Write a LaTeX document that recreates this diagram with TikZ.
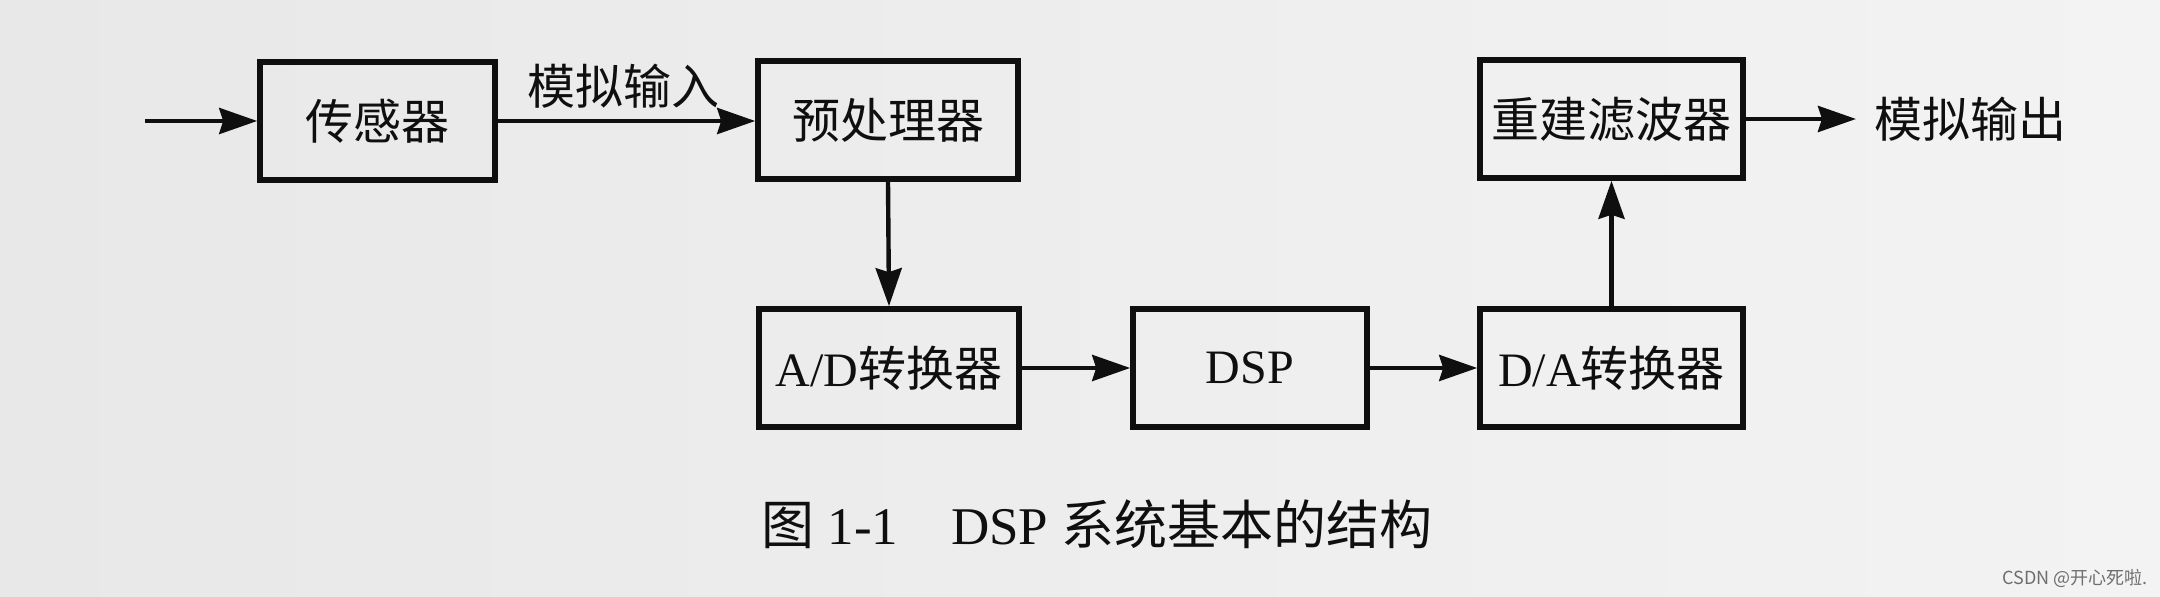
\documentclass[tikz,border=0pt]{standalone}
\usepackage{fontspec}
\setmainfont{Liberation Serif}
\newfontfamily\cjk{Noto Sans CJK SC}
\usetikzlibrary{arrows.meta}
\definecolor{ink}{RGB}{15,15,15}
\definecolor{bgl}{RGB}{232,232,232}
\definecolor{bgr}{RGB}{243,243,243}
\definecolor{wm}{RGB}{110,110,110}
\tikzset{
  blk/.style={draw=ink, line width=2.8pt, minimum height=59pt, inner sep=0pt,
    font=\fontsize{24}{28}\selectfont, text=ink},
  lbl/.style={inner sep=0pt, font=\fontsize{24}{28}\selectfont, text=ink},
  arr/.style={draw=ink, line width=2.2pt, -{Stealth[length=19pt,width=13pt,inset=2pt]}},
}
\begin{document}
\begin{tikzpicture}[x=0.5pt,y=-0.5pt]
\shade[left color=bgl, right color=bgr] (0,0) rectangle (2160,597);
\useasboundingbox (0,0) rectangle (2160,597);

\node[blk, minimum width=117.5pt] (sensor) at (377.5,121) {\cjk 传感器};
\node[blk, minimum width=130pt] (pre) at (888,120) {\cjk 预处理器};
\node[blk, minimum width=130pt] (ad) at (889,368) {A/D{\cjk 转换器}};
\node[blk, minimum width=117pt] (dsp) at (1250,368) {DSP};
\node[blk, minimum width=131.5pt] (da) at (1611.5,368) {D/A{\cjk 转换器}};
\node[blk, minimum width=131.5pt] (rec) at (1611.5,119) {\cjk 重建滤波器};

\coordinate (in) at (145,121);
\node[lbl] (lblin) at (623,86) {\cjk 模拟输入};
\node[lbl, anchor=west, inner xsep=9pt] (outlbl) at (1856,119) {\cjk 模拟输出};

\draw[arr] (in) -- (sensor.west);
\draw[arr] (sensor.east) -- (sensor.east -| pre.west);
\draw[arr] (pre.south) -- (ad.north);
\draw[arr] (ad.east) -- (dsp.west);
\draw[arr] (dsp.east) -- (da.west);
\draw[arr] (da.north) -- (rec.south);
\draw[arr] (rec.east) -- (outlbl.west);

\node[inner sep=0pt, text=ink, font=\fontsize{26.5}{30}\selectfont] (cap) at (1097,524)
  {{\cjk 图} 1-1\quad DSP {\cjk 系统基本的结构}};

\node[inner sep=0pt, anchor=east, text=wm, font=\cjk\fontsize{9}{11}\selectfont] (mark) at (2148,578) {CSDN @开心死啦.};
\end{tikzpicture}
\end{document}
